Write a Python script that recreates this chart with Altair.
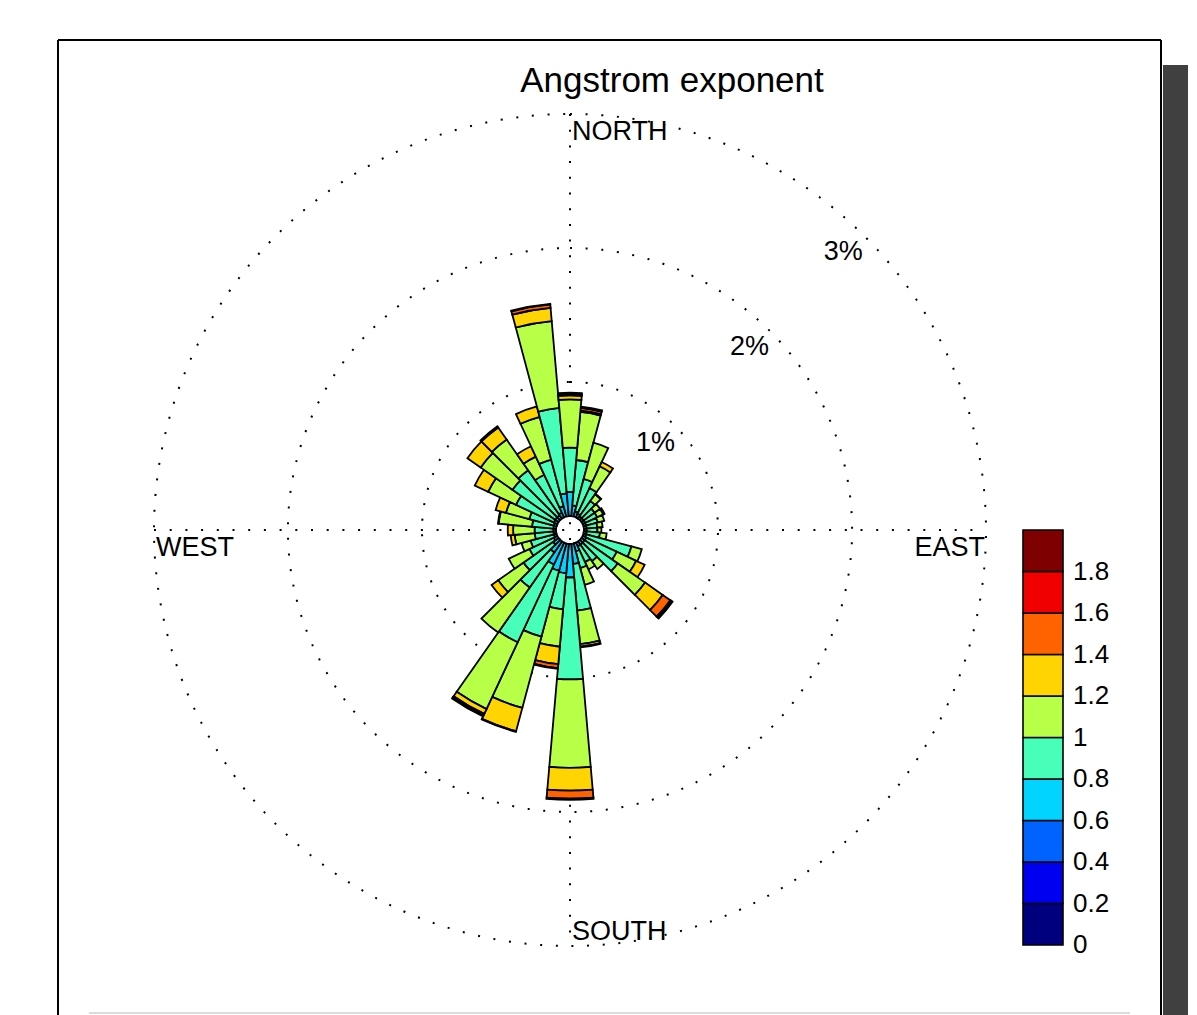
import math
import altair as alt
import pandas as pd

# Wind sectors (degrees, centre of each 10-degree sector)
directions = list(range(10, 361, 10))

# Angstrom exponent classes and their colours (jet-like ramp)
class_names = ["0-0.2", "0.2-0.4", "0.4-0.6", "0.6-0.8", "0.8-1",
               "1-1.2", "1.2-1.4", "1.4-1.6", "1.6-1.8", "1.8-2"]
class_colours = ["#00007F", "#0000F1", "#0063FF", "#00D4FF", "#47FFB8",
                 "#B8FF47", "#FFD400", "#FF6300", "#F10000", "#7F0000"]
colourbar_ticks = [0, 0.2, 0.4, 0.6, 0.8, 1.0, 1.2, 1.4, 1.6, 1.8]
colourbar_labels = ["0", "0.2", "0.4", "0.6", "0.8", "1", "1.2", "1.4", "1.6", "1.8"]

# Frequency (% of time) per sector for each Angstrom exponent class
#              10    20    30    40    50    60    70    80    90   100   110   120
#             130   140   150   160   170   180   190   200   210   220   230   240
#             250   260   270   280   290   300   310   320   330   340   350   360
freq_06_08 = [0.08, 0.04, 0.03, 0.02, 0.02, 0.02, 0.02, 0.02, 0.02, 0.02, 0.02, 0.03,
              0.03, 0.03, 0.03, 0.06, 0.15, 0.25, 0.22, 0.21, 0.18, 0.10, 0.05, 0.03,
              0.02, 0.02, 0.02, 0.02, 0.02, 0.03, 0.03, 0.03, 0.04, 0.08, 0.17, 0.18]
freq_08_10 = [0.34, 0.25, 0.21, 0.14, 0.10, 0.10, 0.09, 0.08, 0.08, 0.10, 0.35, 0.25,
              0.30, 0.15, 0.13, 0.13, 0.35, 0.76, 0.27, 0.51, 0.64, 0.32, 0.27, 0.20,
              0.18, 0.14, 0.14, 0.16, 0.19, 0.31, 0.39, 0.41, 0.31, 0.36, 0.64, 0.33]
freq_10_12 = [0.36, 0.28, 0.18, 0.06, 0.05, 0.05, 0.05, 0.04, 0.03, 0.05, 0.08, 0.16,
              0.25, 0.07, 0.06, 0.13, 0.25, 0.66, 0.28, 0.55, 0.55, 0.41, 0.23, 0.17,
              0.07, 0.15, 0.16, 0.25, 0.18, 0.23, 0.29, 0.28, 0.15, 0.33, 0.65, 0.36]
freq_12_14 = [0.01, 0.00, 0.035, 0.00, 0.00, 0.01, 0.00, 0.00, 0.00, 0.00, 0.00, 0.07,
              0.16, 0.00, 0.00, 0.00, 0.02, 0.17, 0.13, 0.18, 0.04, 0.00, 0.06, 0.00,
              0.00, 0.03, 0.04, 0.00, 0.08, 0.11, 0.12, 0.11, 0.085, 0.08, 0.10, 0.03]
freq_14_16 = [0.02, 0.00, 0.00, 0.00, 0.00, 0.00, 0.00, 0.00, 0.00, 0.00, 0.00, 0.00,
              0.07, 0.00, 0.00, 0.00, 0.00, 0.06, 0.03, 0.00, 0.01, 0.00, 0.00, 0.00,
              0.00, 0.00, 0.00, 0.00, 0.00, 0.00, 0.00, 0.00, 0.00, 0.00, 0.025, 0.01]
freq_16_18 = [0.00, 0.00, 0.00, 0.00, 0.00, 0.00, 0.00, 0.00, 0.00, 0.00, 0.00, 0.00,
              0.01, 0.00, 0.00, 0.00, 0.00, 0.00, 0.00, 0.00, 0.00, 0.00, 0.00, 0.00,
              0.00, 0.00, 0.00, 0.00, 0.00, 0.00, 0.00, 0.00, 0.00, 0.00, 0.00, 0.00]
freq_18_20 = [0.01, 0.00, 0.00, 0.005, 0.00, 0.00, 0.00, 0.00, 0.00, 0.00, 0.00, 0.00,
              0.01, 0.00, 0.00, 0.00, 0.005, 0.01, 0.005, 0.005, 0.01, 0.00, 0.00, 0.00,
              0.00, 0.00, 0.00, 0.005, 0.00, 0.00, 0.00, 0.01, 0.00, 0.00, 0.005, 0.01]

# Percentage rings
ring_levels = [1, 2, 3]
ring_labels = ["1%", "2%", "3%"]

# ---- tables built from the lists above ----
stacked_classes = [("0.6-0.8", freq_06_08), ("0.8-1", freq_08_10), ("1-1.2", freq_10_12),
                   ("1.2-1.4", freq_12_14), ("1.4-1.6", freq_14_16), ("1.6-1.8", freq_16_18),
                   ("1.8-2", freq_18_20)]
rows = []
for i, d in enumerate(directions):
    base = 0.0
    for name, values in stacked_classes:
        v = values[i]
        if v > 0:
            rows.append({"dir": d, "a0": d - 5, "a1": d + 5, "r0": base, "r1": base + v, "cls": name})
            base += v
segments = pd.DataFrame(rows)

rings_df = pd.DataFrame({"level": ring_levels, "label": ring_labels,
                         "a0": 0, "a1": 360, "ang": 44.5})
hole_df = pd.DataFrame({"level": [0], "a0": [0], "a1": [360]})
cbar_df = pd.DataFrame({"cls": class_names,
                        "lo": colourbar_ticks,
                        "hi": [t + 0.2 for t in colourbar_ticks]})
cbar_lab_df = pd.DataFrame({"val": colourbar_ticks, "label": colourbar_labels})
one = pd.DataFrame({"k": [0]})

# ---- geometry of the polar panel (view coordinates) ----
W, H = 1140, 960
CX, CY = W / 2, H / 2
R0, R_PER_PCT = 14, 134
R_OUT = R0 + 3 * R_PER_PCT
FONT = "Liberation Sans"

theta_scale = alt.Scale(type="linear", domain=[0, 360], range=[0, 2 * math.pi])
radius_scale = alt.Scale(type="linear", domain=[0, 3], range=[R0, R_OUT], zero=False)
colour_scale = alt.Scale(domain=class_names, range=class_colours)
dots = [2, 13.7]

# dotted compass cross
cross_v = alt.Chart(one).mark_rule(color="black", strokeWidth=2, strokeDash=dots).encode(
    x=alt.value(CX), y=alt.value(CY - R_OUT), y2=alt.value(CY + R_OUT))
cross_h = alt.Chart(one).mark_rule(color="black", strokeWidth=2, strokeDash=dots).encode(
    y=alt.value(CY), x=alt.value(CX - R_OUT), x2=alt.value(CX + R_OUT))

# dotted percentage rings
rings = alt.Chart(rings_df).mark_arc(filled=False, stroke="black", strokeWidth=2,
                                     strokeDash=dots).encode(
    theta=alt.Theta("a0:Q", scale=theta_scale, stack=None),
    theta2="a1:Q",
    radius=alt.Radius("level:Q", scale=radius_scale),
)

hole = alt.Chart(hole_df).mark_arc(fill="white", stroke=None).encode(
    theta=alt.Theta("a0:Q", scale=theta_scale, stack=None),
    theta2="a1:Q",
    radius=alt.Radius("level:Q", scale=radius_scale),
)

# stacked rose sectors
bars = alt.Chart(segments).mark_arc(stroke="black", strokeWidth=1.8).encode(
    theta=alt.Theta("a0:Q", scale=theta_scale, stack=None),
    theta2="a1:Q",
    radius=alt.Radius("r1:Q", scale=radius_scale),
    radius2="r0:Q",
    fill=alt.Fill("cls:N", scale=colour_scale, legend=None),
)

ring_text = alt.Chart(rings_df).mark_text(font=FONT, fontSize=27, radiusOffset=-26,
                                          color="black").encode(
    theta=alt.Theta("ang:Q", scale=theta_scale, stack=None),
    radius=alt.Radius("level:Q", scale=radius_scale),
    text="label:N",
)

def label(txt, x, y, align="left", size=27):
    return alt.Chart(one).mark_text(text=txt, font=FONT, fontSize=size, align=align,
                                    baseline="alphabetic", color="black").encode(
        x=alt.value(x), y=alt.value(y))

compass = [
    label("NORTH", CX + 2, 90),
    label("SOUTH", CX + 2, 890),
    label("WEST", 156, 506),
    label("EAST", 985, 506, align="right"),
]
title = label("Angstrom exponent", 672, 42, align="center", size=35)

# colour bar
cbar_y = alt.Scale(domain=[0, 2], range=[895, 480])
cbar = alt.Chart(cbar_df).mark_rect(stroke="black", strokeWidth=1.6).encode(
    x=alt.value(1023), x2=alt.value(1063),
    y=alt.Y("lo:Q", scale=cbar_y, axis=None), y2="hi:Q",
    fill=alt.Fill("cls:N", scale=colour_scale, legend=None),
)
cbar_text = alt.Chart(cbar_lab_df).mark_text(font=FONT, fontSize=26, align="left",
                                             baseline="middle", color="black").encode(
    x=alt.value(1073),
    y=alt.Y("val:Q", scale=cbar_y, axis=None),
    text="label:N",
)

# page frame with drop shadow
frame_top = alt.Chart(one).mark_rule(color="black", strokeWidth=2).encode(
    x=alt.value(58), x2=alt.value(1161), y=alt.value(-10))
frame_left = alt.Chart(one).mark_rule(color="black", strokeWidth=2).encode(
    x=alt.value(58), y=alt.value(-10), y2=alt.value(980))
frame_right = alt.Chart(one).mark_rule(color="black", strokeWidth=2).encode(
    x=alt.value(1161), y=alt.value(-10), y2=alt.value(980))
shadow = alt.Chart(one).mark_rect(color="#404040").encode(
    x=alt.value(1163), x2=alt.value(1188), y=alt.value(15), y2=alt.value(980))
bottom_line = alt.Chart(one).mark_rect(color="#dcdcdc").encode(
    x=alt.value(89), x2=alt.value(1130), y=alt.value(962), y2=alt.value(964))

chart = alt.layer(
    shadow, frame_top, frame_left, frame_right, bottom_line,
    cross_v, cross_h, rings, hole, bars, ring_text,
    *compass, title, cbar, cbar_text,
).properties(
    width=W, height=H,
    padding={"left": 0, "top": 50, "right": 57, "bottom": 5},
    autosize=alt.AutoSizeParams(type="none"),
    background="white",
).configure_view(stroke=None)

chart.save("out.html", embed_options={"renderer": "svg", "actions": False})
